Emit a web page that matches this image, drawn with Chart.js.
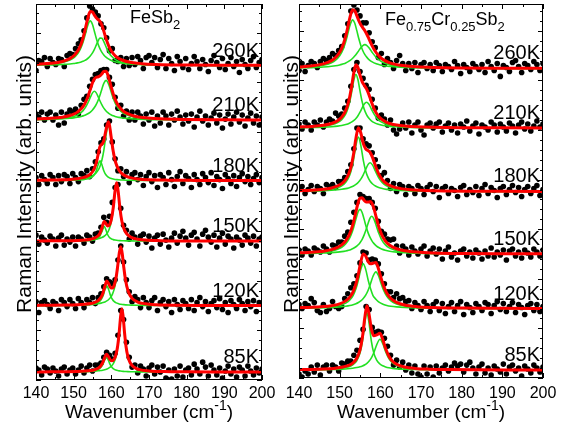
<!DOCTYPE html>
<html>
<head>
<meta charset="utf-8">
<script src="https://cdn.jsdelivr.net/npm/chart.js@4.4.1/dist/chart.umd.min.js"></script>
<style>
  html, body { margin: 0; padding: 0; background: #fff; }
  #wrap { position: relative; width: 575px; height: 431px; overflow: hidden; }
  canvas { position: absolute; top: 0; }
  #left { left: 0; }
  #right { left: 265px; }
</style>
</head>
<body>
<div id="wrap">
  <canvas id="left" width="285" height="431"></canvas>
  <canvas id="right" width="310" height="431"></canvas>
</div>
<script>
const FONT = '"Liberation Sans", Arial, sans-serif';
const RED = '#ff0000';
const GREEN = '#22e022';

const temps = ['260K', '210K', '180K', '150K', '120K', '85K'];
// vertical stacking offset of each spectrum (arb. units)
const offsetsFe = [317, 262, 201, 140, 75, 8];
const offsetsCr = [312, 252, 188, 125, 70, 8];

// measured points (cm-1)
const wavenumber = [140,140.75,141.5,142.25,143,143.75,144.5,145.25,146,146.75,147.5,148.25,149,149.75,150.5,151.25,152,152.75,153.5,154.25,155,155.75,156.5,157.25,158,158.75,159.5,160.25,161,161.75,162.5,163.25,164,164.75,165.5,166.25,167,167.75,168.5,169.25,170,170.75,171.5,172.25,173,173.75,174.5,175.25,176,176.75,177.5,178.25,179,179.75,180.5,181.25,182,182.75,183.5,184.25,185,185.75,186.5,187.25,188,188.75,189.5,190.25,191,191.75,192.5,193.25,194,194.75,195.5,196.25,197,197.75,198.5,199.25,200];

// ---- FeSb2 ----
const fe260Dots = [-5,5,4,8,-1,7,3,1,7,6,-1,10,12,11,17,22,26,35,48,60,57,54,50,42,38,28,15,17,5,4,8,-1,7,0,8,1,9,5,-3,8,10,3,8,-2,6,11,-3,7,2,-5,9,4,-2,7,-4,2,9,4,-3,6,1,-6,5,10,3,-2,7,-4,2,8,-1,4,-7,6,1,-3,5,9,-2,3,6];
const fe260FitX = [140,144,147,149,150,150.5,151,151.5,152,152.5,153,153.5,154,154.4,155,155.5,156,156.5,157,157.5,158,158.5,159,159.5,160,161,162,163,165,168,172,180,190,200];
const fe260PeakA = [0.85,1.6,3.06,5.43,7.7,9.4,11.6,14.5,18.4,23.7,30.2,37.4,43.3,45,41.3,34.5,27.4,21.4,16.7,13.2,10.6,8.65,7.15,6.0,5.1,3.8,2.9,2.3,1.55,0.95,0.57,0.27,0.14,0.09];
const fe260PeakB = [0.37,0.63,1.04,1.57,2.0,2.29,2.64,3.07,3.6,4.3,5.2,6.3,7.9,9.5,12.7,16.3,20.6,24.9,27.7,27.4,24.1,19.7,15.5,12.1,9.5,6.1,4.1,3.0,1.73,0.93,0.5,0.21,0.1,0.06];
const fe260Fit = [1.22,2.23,4.1,7.0,9.7,11.69,14.24,17.57,22.0,28.0,35.4,43.7,51.2,54.5,54.0,50.8,48.0,46.3,44.4,40.6,34.7,28.35,22.65,18.1,14.6,9.9,7.0,5.3,3.28,1.88,1.07,0.48,0.24,0.15];

const fe210Dots = [6,3,8,0,6,8,0,5,-5,8,-3,6,10,8,11,6,15,21,24,34,41,46,47,50,51,51,43,36,23,12,15,4,9,0,8,0,8,4,-4,6,0,8,-6,4,-3,8,4,-5,6,0,9,3,-4,5,-1,6,-7,3,9,-1,4,-5,2,7,-3,5,-8,1,6,-4,3,8,-2,5,-6,2,7,-3,4,-5,3];
const fe210FitX = [140,144,147,149,150,151,152,152.5,153,153.5,154,154.5,155,155.5,156,156.5,157,157.5,158,158.6,159,159.5,160,160.5,161,161.5,162,163,164,166,169,173,180,190,200];
const fe210PeakA = [0.52,0.94,1.67,2.74,3.69,5.19,7.67,9.54,12.0,15.2,19.2,23.6,27.4,29,27.4,23.6,19.2,15.2,12.0,9.12,7.67,6.26,5.19,4.35,3.69,3.17,2.74,2.11,1.67,1.12,0.69,0.41,0.21,0.11,0.06];
const fe210PeakB = [0.5,0.81,1.27,1.83,2.25,2.84,3.68,4.24,4.93,5.8,6.9,8.32,10.2,12.6,15.8,20,25.3,31.4,37,40,38.6,33.8,27.7,22,17.3,13.8,11,7.42,5.26,2.98,1.57,0.83,0.38,0.18,0.1];
const fe210Fit = [1.02,1.75,2.94,4.57,5.94,8.03,11.35,13.78,16.93,21.0,26.1,31.92,37.6,41.6,43.2,43.6,44.5,46.6,49.0,49.12,46.27,40.06,32.89,26.35,20.99,16.97,13.74,9.53,6.93,4.1,2.26,1.24,0.59,0.29,0.16];

const fe180Dots = [3,-4,5,1,-3,6,3,-4,5,-1,6,4,-3,7,3,-1,7,5,10,4,12,19,29,38,42,56,60,39,22,10,12,4,9,-2,6,8,1,6,-5,4,8,-1,5,-7,6,3,-4,8,1,-6,4,9,-3,5,2,-7,6,1,-4,7,3,-2,8,-5,4,1,-8,6,2,-3,5,-6,3,7,-1,4,-4,2,6,-2,3];
const fe180FitX = [140,144,147,149,151,152.5,153.5,154.5,155,155.5,156,156.5,157,157.5,158,158.5,159.2,159.5,160,160.5,161,161.5,162,162.5,163,164,165,167,170,175,182,190,200];
const fe180PeakA = [0.07,0.12,0.2,0.31,0.54,0.94,1.51,2.76,4.0,6.15,10,16,20,16,10,6.15,3.42,2.76,2.0,1.51,1.18,0.94,0.77,0.64,0.54,0.4,0.31,0.2,0.12,0.06,0.03,0.02,0.01];
const fe180PeakB = [0.26,0.41,0.63,0.89,1.37,2.03,2.77,3.98,4.9,6.15,7.93,10.5,14.5,20.7,30.2,43.4,56,53.2,40.6,28,19.2,13.6,9.93,7.53,5.87,3.83,2.68,1.51,0.8,0.38,0.18,0.1,0.06];
const fe180Fit = [0.33,0.53,0.83,1.2,1.91,2.97,4.28,6.74,8.9,12.3,17.93,26.5,34.5,36.7,40.2,49.55,59.42,55.96,42.6,29.51,20.38,14.54,10.7,8.17,6.41,4.23,2.99,1.71,0.92,0.44,0.21,0.12,0.07];

const fe150Dots = [6,-3,4,1,-2,5,2,-5,3,6,-4,2,-1,4,-5,4,2,-2,6,4,0,7,8,14,24,19,25,39,54,57,33,16,11,2,8,4,-3,5,7,-1,5,-7,3,6,-3,7,1,-6,3,8,-2,5,10,3,-4,6,9,2,-5,7,11,4,-1,6,-6,3,8,-3,5,2,-7,4,1,-4,6,3,-2,5,-5,2,4];
const fe150FitX = [140,144,148,151,153,154.5,155.5,156.5,157,157.5,158.1,158.5,159,159.5,160,160.5,161,161.4,161.8,162.3,162.8,163.3,164,165,166.5,169,173,180,190,200];
const fe150PeakA = [0.03,0.05,0.09,0.19,0.36,0.71,1.3,3.0,5.19,9.6,15,12,6.62,3.69,2.26,1.5,1.06,0.83,0.67,0.52,0.42,0.35,0.27,0.2,0.14,0.08,0.04,0.02,0.01,0.01];
const fe150PeakB = [0.13,0.19,0.32,0.53,0.81,1.19,1.62,2.32,2.85,3.58,4.88,6.16,8.58,12.6,19.6,32,50,58,50,32,19.6,12.6,7.47,4.15,2.15,0.99,0.43,0.17,0.07,0.04];
const fe150Fit = [0.16,0.24,0.41,0.72,1.17,1.9,2.92,5.32,8.04,13.18,19.88,18.16,15.2,16.29,21.86,33.5,51.06,58.83,50.67,32.52,20.02,12.95,7.74,4.35,2.29,1.07,0.47,0.19,0.08,0.05];

const fe120Dots = [4,-7,3,5,1,-3,4,2,-5,6,3,-1,6,2,-3,7,3,-2,6,3,8,2,8,12,19,27,24,22,26,46,60,44,26,14,4,9,6,-2,8,3,-2,5,8,-5,3,6,-1,4,-7,6,1,-4,5,2,-3,6,-5,3,8,-1,4,-6,2,5,-2,7,-4,3,-7,5,1,-3,6,2,-5,4,-1,5,-6,3,1];
const fe120FitX = [140,144,148,151,153,154.5,155.5,156.5,157.3,157.8,158.3,158.8,159.3,159.8,160.3,160.8,161.3,161.8,162.1,162.5,162.9,163.3,163.8,164.5,165.5,167,169,172,177,185,200];
const fe120PeakA = [0.06,0.09,0.17,0.32,0.58,1.03,1.68,3.18,6.15,10,16,20,16,10,6.15,4,2.76,2,1.68,1.36,1.12,0.94,0.77,0.6,0.44,0.29,0.19,0.11,0.06,0.03,0.01];
const fe120PeakB = [0.14,0.2,0.33,0.53,0.77,1.08,1.4,1.89,2.48,3.01,3.72,4.71,6.13,8.26,11.6,17.1,26.5,41.3,51.2,58,51.2,37.9,24.2,13.5,6.87,3.28,1.62,0.77,0.33,0.14,0.05];
const fe120Fit = [0.2,0.29,0.5,0.85,1.35,2.11,3.08,5.07,8.63,13.01,19.72,24.71,22.13,18.26,17.75,21.1,29.26,43.3,52.88,59.36,52.32,38.84,24.97,14.1,7.31,3.57,1.81,0.88,0.39,0.17,0.06];

const fe85Dots = [4,2,-3,5,3,-1,4,1,-4,3,5,-2,2,4,-2,2,6,-1,4,7,1,7,7,9,15,20,17,13,19,37,62,53,30,15,5,7,-1,6,3,-4,4,7,-2,5,0,6,-6,2,-7,3,-4,6,-5,2,4,-3,8,3,-2,10,5,-4,7,2,-3,4,-6,1,6,-2,3,-5,5,2,-4,6,1,-3,4,-1,3];
const fe85FitX = [140,144,148,151,153,154.5,155.5,156.5,157.2,157.7,158.2,158.7,159.2,159.7,160.2,160.7,161.2,161.7,162.1,162.45,162.8,163.15,163.5,163.9,164.4,165,166,167.5,170,174,180,190,200];
const fe85PeakA = [0.04,0.07,0.13,0.25,0.45,0.8,1.33,2.57,4.62,7.5,12,15,12,7.5,4.62,3,2.07,1.5,1.19,1.0,0.84,0.72,0.62,0.53,0.45,0.37,0.28,0.19,0.12,0.06,0.03,0.02,0.01];
const fe85PeakB = [0.1,0.14,0.23,0.36,0.53,0.73,0.94,1.26,1.59,1.9,2.32,2.9,3.71,4.9,6.74,9.78,15.1,25.3,39.3,54.7,63,54.7,39.3,25.3,15.1,9.03,4.62,2.23,0.97,0.4,0.17,0.07,0.04];
const fe85Fit = [0.14,0.21,0.36,0.61,0.98,1.53,2.27,3.83,6.21,9.4,14.32,17.9,15.71,12.4,11.36,12.78,17.17,26.8,40.49,55.7,63.84,55.42,39.92,25.83,15.55,9.4,4.9,2.42,1.09,0.46,0.2,0.09,0.05];

// ---- Fe0.75Cr0.25Sb2 ----
const cr260Dots = [-2,5,-3,3,7,5,1,7,10,8,11,15,13,18,22,33,45,58,64,59,53,46,46,36,27,21,11,15,4,10,6,0,8,13,5,-2,5,0,6,-4,4,6,0,4,-2,6,3,-3,4,2,-1,7,3,-5,4,1,-3,5,2,-1,4,-4,7,2,-2,5,-8,3,1,-3,6,8,2,-4,5,3,-1,7,4,-2,5];
const cr260FitX = [140,143,146,148,149,150,150.5,151,151.5,152,152.5,153.2,153.7,154.2,154.7,155.2,155.7,156.2,156.7,157.2,158,159,160,161,162.5,164,166,169,173,180,190,200];
const cr260PeakA = [0.99,1.64,3.19,5.77,8.32,12.8,16.2,20.9,27.2,35.0,43.1,49,45.8,38.4,30.2,23.2,17.9,14.0,11.2,9.02,6.64,4.75,3.55,2.75,1.96,1.47,1.06,0.7,0.45,0.25,0.13,0.08];
const cr260PeakB = [0.6,0.9,1.46,2.19,2.77,3.59,4.13,4.8,5.62,6.65,7.93,10.3,12.5,15.1,18.0,20.9,23.1,24,23.1,20.9,16.2,11.1,7.65,5.44,3.49,2.4,1.58,0.95,0.56,0.28,0.14,0.08];
const cr260Fit = [1.59,2.54,4.65,7.96,11.09,16.39,20.33,25.7,32.82,41.65,51.03,59.3,58.3,53.5,48.2,44.1,41.0,38.0,34.3,29.92,22.84,15.85,11.2,8.19,5.45,3.87,2.64,1.65,1.01,0.53,0.27,0.16];

const cr210Dots = [4,-1,6,3,-2,6,3,8,1,6,9,7,15,12,14,20,27,42,59,66,57,50,43,39,29,20,10,13,9,3,8,-2,-6,-1,5,0,6,-5,3,6,-2,-7,3,5,0,4,6,-4,2,5,-2,3,-5,4,1,7,-3,2,5,-6,3,1,-2,6,3,-4,4,1,-3,5,2,-5,3,6,-1,4,-3,2,7,1,4];
const cr210FitX = [140,143,146,148,149.5,150.5,151.5,152,152.5,153,153.5,154,154.5,155,155.5,156,156.6,157.2,157.8,158.5,159.3,160.2,161.3,162.5,164,166,169,173,180,190,200];
const cr210PeakA = [0.61,0.99,1.84,3.18,5.4,8.38,14.3,19.4,27,37.4,48.6,54,48.6,37.4,27,19.4,13.5,9.73,7.28,5.4,4.0,2.98,2.19,1.63,1.19,0.83,0.53,0.34,0.18,0.09,0.06];
const cr210PeakB = [0.37,0.55,0.89,1.33,1.91,2.52,3.47,4.13,5.0,6.13,7.65,9.67,12.4,15.9,20.0,23.9,26,23.9,19.1,13.7,9.21,6.13,3.99,2.68,1.77,1.13,0.66,0.38,0.19,0.09,0.06];
const cr210Fit = [0.98,1.54,2.73,4.51,7.31,10.9,17.77,23.53,32.0,43.53,56.25,63.67,61.0,53.3,47.0,43.3,39.5,33.63,26.38,19.1,13.21,9.11,6.18,4.31,2.96,1.96,1.19,0.72,0.37,0.18,0.12];

const cr180Dots = [3,5,-2,2,6,0,5,3,-2,7,5,7,4,10,10,14,20,27,43,64,64,53,48,46,39,32,25,16,19,11,3,8,0,7,5,-3,5,3,-2,6,3,-3,4,7,0,5,-6,3,5,-2,3,1,-5,4,6,-3,2,-1,5,-4,3,7,-2,4,1,-6,3,5,-3,2,6,-1,4,-5,2,5,-2,3,6,-4,2];
const cr180FitX = [140,143,146,148,149.5,150.5,151.5,152.2,152.8,153.4,154,154.6,155.2,155.8,156.4,157,157.5,158.1,158.8,159.6,160.5,161.5,163,165,167.5,171,176,183,190,200];
const cr180PeakA = [0.5,0.79,1.42,2.37,3.85,5.74,9.32,13.96,20.7,31.7,46.5,55,46.5,31.7,20.7,13.96,10.4,7.59,5.5,4.0,2.93,2.17,1.49,0.98,0.64,0.4,0.23,0.13,0.09,0.05];
const cr180PeakB = [0.37,0.54,0.85,1.23,1.71,2.19,2.9,3.62,4.45,5.58,7.14,9.35,12.5,16.8,22.3,27.3,29,26.6,20.4,13.8,8.92,5.8,3.39,1.93,1.12,0.62,0.33,0.18,0.11,0.06];
const cr180Fit = [0.87,1.33,2.27,3.6,5.56,7.93,12.22,17.58,25.15,37.28,53.64,64.35,59.0,48.5,43.0,41.26,39.4,34.19,25.9,17.8,11.85,7.97,4.88,2.91,1.76,1.02,0.56,0.31,0.2,0.11];

const cr150Dots = [4,-1,5,3,-1,6,4,2,8,5,2,9,8,12,12,18,22,32,42,52,60,58,56,56,52,46,33,23,20,15,14,15,8,1,8,5,-1,7,3,0,5,8,-2,3,6,0,5,-5,3,7,-3,1,-6,3,5,-2,2,-4,4,1,-5,3,-2,6,-3,2,-1,4,-6,3,5,-2,2,-4,4,1,-3,5,2,-2,4];
const cr150FitX = [140,143,146,148,149.5,150.5,151.5,152.2,152.8,153.4,154,154.5,155,155.5,156,156.5,157,157.5,157.9,158.4,159,159.6,160.3,161.2,162.3,164,166,169,173,180,190,200];
const cr150PeakA = [0.71,1.1,1.92,3.09,4.8,6.8,10.3,14.2,19.2,26.3,35.2,42.1,45,42.1,35.2,27.7,21.3,16.5,13.5,10.7,8.28,6.56,5.13,3.87,2.85,1.92,1.31,0.81,0.5,0.26,0.13,0.08];
const cr150PeakB = [0.42,0.61,0.95,1.35,1.85,2.35,3.08,3.8,4.64,5.74,7.3,9.04,11.4,14.6,19,24.6,31.0,36.4,38,35.5,28.5,21.1,14.6,9.46,5.97,3.36,1.98,1.08,0.59,0.28,0.13,0.08];
const cr150Fit = [1.13,1.71,2.87,4.44,6.65,9.15,13.38,18.0,23.84,32.04,42.5,51.14,56.4,56.7,54.2,52.3,52.3,52.9,51.5,46.2,36.78,27.66,19.73,13.33,8.82,5.28,3.29,1.89,1.09,0.54,0.26,0.16];

const cr120Dots = [4,0,5,3,10,6,-2,-4,4,-3,0,7,2,0,2,10,15,21,25,33,46,57,56,49,50,49,45,35,25,17,17,11,15,10,11,7,8,0,6,3,-1,7,3,-3,4,7,-2,5,-5,2,6,-3,3,7,-6,4,1,-4,5,2,-2,6,4,-5,3,7,-1,5,-3,2,6,-4,4,1,-6,3,5,-2,4,-3,2];
const cr120FitX = [140,143,146,148,150,151.5,152.5,153.3,154,154.6,155.2,155.8,156.4,157,157.6,158.2,158.9,159.5,160.1,160.8,161.6,162.6,164,166,169,173,180,190,200];
const cr120PeakA = [0.46,0.69,1.17,1.81,3.18,5.47,8.57,13.1,19.9,28.8,39.5,45,39.5,28.8,19.9,13.1,9.47,7.09,5.47,4.18,3.18,2.36,1.65,1.08,0.65,0.39,0.2,0.1,0.06];
const cr120PeakB = [0.37,0.52,0.79,1.09,1.62,2.29,3.0,3.82,4.84,6.05,7.72,10.1,13.5,18.5,25.2,32.6,37,33.6,26.4,18.5,12.3,7.72,4.51,2.47,1.26,0.66,0.3,0.14,0.08];
const cr120Fit = [0.83,1.21,1.96,2.9,4.8,7.76,11.57,16.92,24.74,34.85,47.22,55.1,53.0,47.3,45.1,45.7,46.47,40.69,31.87,22.68,15.48,10.08,6.16,3.55,1.91,1.05,0.5,0.24,0.14];

const cr85Dots = [-4,-7,-1,-4,3,-2,5,-5,3,5,-1,5,3,-1,7,6,9,9,15,20,30,41,64,61,43,38,39,38,32,24,15,5,10,3,8,0,5,-3,4,-4,-7,4,-4,3,-7,4,-3,2,5,-1,3,7,4,6,-2,5,8,2,-4,3,6,-3,2,-5,4,1,-2,6,-4,3,5,-1,2,-6,4,1,-3,5,2,-2,3];
const cr85FitX = [140,143,146,148.5,150.5,152,153.2,154.2,155,155.6,156.2,156.7,157.2,157.8,158.4,159.1,159.9,160.6,161.3,162.1,163,164.2,166,168.5,172,177,184,192,200];
const cr85PeakA = [0.25,0.37,0.61,1.02,1.77,3.01,5.22,9.4,17.1,29,48.1,58,48.1,29,17.1,10.1,6.13,4.27,3.14,2.31,1.72,1.22,0.8,0.5,0.3,0.17,0.09,0.06,0.04];
const cr85PeakB = [0.22,0.31,0.46,0.67,0.98,1.37,1.88,2.53,3.33,4.19,5.4,6.83,8.81,12.3,17.4,25.4,31,26.5,18.5,11.6,7.16,4.19,2.23,1.17,0.6,0.31,0.15,0.09,0.06];
const cr85Fit = [0.47,0.68,1.07,1.69,2.75,4.38,7.1,11.93,20.43,33.19,53.5,64.83,56.91,41.3,34.5,35.5,37.13,30.77,21.64,13.91,8.88,5.41,3.03,1.67,0.9,0.48,0.24,0.15,0.1];

const feSpectra = [
  [fe260Dots, fe260FitX, fe260PeakA, fe260PeakB, fe260Fit],
  [fe210Dots, fe210FitX, fe210PeakA, fe210PeakB, fe210Fit],
  [fe180Dots, fe180FitX, fe180PeakA, fe180PeakB, fe180Fit],
  [fe150Dots, fe150FitX, fe150PeakA, fe150PeakB, fe150Fit],
  [fe120Dots, fe120FitX, fe120PeakA, fe120PeakB, fe120Fit],
  [fe85Dots, fe85FitX, fe85PeakA, fe85PeakB, fe85Fit]
];
const crSpectra = [
  [cr260Dots, cr260FitX, cr260PeakA, cr260PeakB, cr260Fit],
  [cr210Dots, cr210FitX, cr210PeakA, cr210PeakB, cr210Fit],
  [cr180Dots, cr180FitX, cr180PeakA, cr180PeakB, cr180Fit],
  [cr150Dots, cr150FitX, cr150PeakA, cr150PeakB, cr150Fit],
  [cr120Dots, cr120FitX, cr120PeakA, cr120PeakB, cr120Fit],
  [cr85Dots, cr85FitX, cr85PeakA, cr85PeakB, cr85Fit]
];

function buildDatasets(spectra, offsets) {
  const sets = [];
  spectra.forEach(([dots, fitX, peakA, peakB, fit], k) => {
    const off = offsets[k];
    const line = (ys, color, width, order) => ({
      data: fitX.map((x, i) => ({ x: x, y: ys[i] + off })),
      showLine: true, borderColor: color, borderWidth: width,
      pointRadius: 0, fill: false, cubicInterpolationMode: 'monotone', order: order
    });
    sets.push({
      data: wavenumber.map((x, i) => ({ x: x, y: dots[i] + off })),
      showLine: false, pointRadius: 2.8, pointBackgroundColor: '#000',
      pointBorderWidth: 0, order: 3
    });
    sets.push(line(peakA, GREEN, 1.6, 2));
    sets.push(line(peakB, GREEN, 1.6, 2));
    sets.push(line(fit, RED, 3, 1));
  });
  return sets;
}

// text with sub/superscripts
function richText(ctx, parts, x, y, size, align) {
  const small = Math.round(size * 0.72);
  let w = 0;
  parts.forEach(p => {
    ctx.font = (p.sub || p.sup ? small : size) + 'px ' + FONT;
    w += ctx.measureText(p.t).width;
  });
  let cx = align === 'center' ? x - w / 2 : x;
  ctx.textAlign = 'left';
  ctx.textBaseline = 'alphabetic';
  parts.forEach(p => {
    ctx.font = (p.sub || p.sup ? small : size) + 'px ' + FONT;
    const dy = p.sub ? size * 0.35 : p.sup ? -size * 0.42 : 0;
    ctx.fillText(p.t, cx, y + dy);
    cx += ctx.measureText(p.t).width;
  });
}

const decor = {
  id: 'decor',
  afterDatasetsDraw(chart, args, o) {
    const { ctx, chartArea: a, scales: { x, y } } = chart;
    ctx.save();
    ctx.strokeStyle = '#000';
    ctx.fillStyle = '#000';
    ctx.lineWidth = 1;
    ctx.strokeRect(a.left + 0.5, a.top + 0.5, a.right - a.left - 1, a.bottom - a.top - 1);
    ctx.beginPath();
    for (let v = 140; v <= 200; v += 5) {
      const px = Math.round(x.getPixelForValue(v)) + 0.5;
      const len = v % 10 === 0 ? 5 : 3;
      ctx.moveTo(px, a.bottom); ctx.lineTo(px, a.bottom - len);
      ctx.moveTo(px, a.top); ctx.lineTo(px, a.top + len);
    }
    for (let v = 0; v <= y.max; v += 10) {
      const py = Math.round(y.getPixelForValue(v)) + 0.5;
      const len = v % 50 === 0 ? 5 : 3;
      ctx.moveTo(a.left, py); ctx.lineTo(a.left + len, py);
      ctx.moveTo(a.right, py); ctx.lineTo(a.right - len, py);
    }
    ctx.stroke();

    // temperature labels
    ctx.font = '20px ' + FONT;
    ctx.textAlign = 'right';
    ctx.textBaseline = 'alphabetic';
    temps.forEach((t, k) => {
      ctx.fillText(t, a.right - 3, y.getPixelForValue(o.offsets[k]) - 9);
    });

    richText(ctx, o.title, o.titleX, o.titleY, 18, 'left');
    richText(ctx, [{ t: 'Wavenumber (cm' }, { t: '-1', sup: true }, { t: ')' }],
      (a.left + a.right) / 2, 418, 19, 'center');

    ctx.save();
    ctx.translate(o.yTitleX, 184);
    ctx.rotate(-Math.PI / 2);
    ctx.font = '21px ' + FONT;
    ctx.textAlign = 'center';
    ctx.textBaseline = 'alphabetic';
    ctx.fillText('Raman Intensity (arb. units)', 0, 0);
    ctx.restore();
    ctx.restore();
  }
};

function makeChart(id, spectra, offsets, yMax, axisHeight, tickPad, pad, extra) {
  return new Chart(document.getElementById(id), {
    type: 'scatter',
    data: { datasets: buildDatasets(spectra, offsets) },
    options: {
      responsive: false,
      animation: false,
      devicePixelRatio: 1,
      layout: { padding: pad },
      plugins: {
        legend: { display: false },
        tooltip: { enabled: false },
        decor: Object.assign({ offsets: offsets }, extra)
      },
      scales: {
        x: {
          type: 'linear', min: 140, max: 200,
          afterFit: s => { s.height = axisHeight; },
          ticks: { stepSize: 10, color: '#000', padding: tickPad, maxRotation: 0, autoSkip: false,
                   font: { family: FONT, size: 16 } },
          grid: { display: false, drawTicks: false },
          border: { display: false }
        },
        y: { display: false, min: 0, max: yMax }
      }
    },
    plugins: [decor]
  });
}

makeChart('left', feSpectra, offsetsFe, 379, 51, 4,
  { left: 36, right: 23, top: 1, bottom: 0 },
  { title: [{ t: 'FeSb' }, { t: '2', sub: true }], titleX: 130, titleY: 23, yTitleX: 31 });

makeChart('right', crSpectra, offsetsCr, 377, 53, 6,
  { left: 34, right: 32, top: 1, bottom: 0 },
  { title: [{ t: 'Fe' }, { t: '0.75', sub: true }, { t: 'Cr' }, { t: '0.25', sub: true }, { t: 'Sb' }, { t: '2', sub: true }],
    titleX: 120, titleY: 25, yTitleX: 33 });
</script>
</body>
</html>
